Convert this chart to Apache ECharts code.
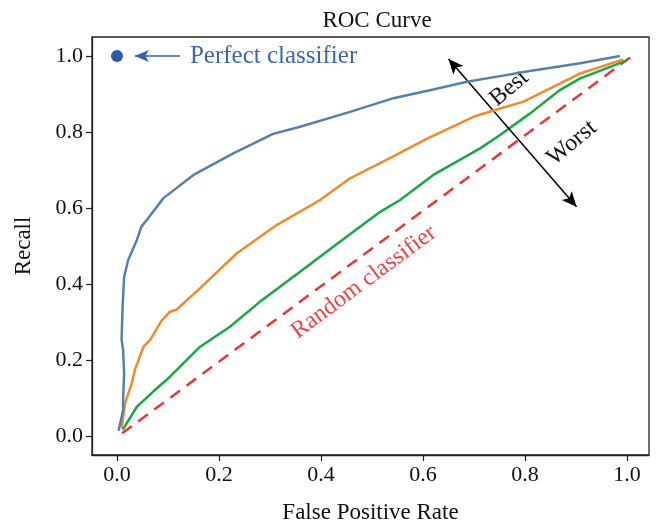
<!DOCTYPE html>
<html><head><meta charset="utf-8">
<script src="https://cdn.jsdelivr.net/npm/echarts@6/dist/echarts.min.js"></script>
<style>html,body{margin:0;padding:0;background:#fff}#c{width:658px;height:524px}</style>
</head><body><div id="c"></div>
<script>
const FONT = '"Liberation Serif", "DejaVu Serif", serif';
const xTicks = [0, 0.2, 0.4, 0.6, 0.8, 1.0];
const yTicks = [0, 0.2, 0.4, 0.6, 0.8, 1.0];

const blueFpr = [0.003,0.012,0.012,0.014,0.012,0.009,0.011,0.014,0.022,0.039,0.048,0.061,0.091,0.150,0.228,0.306,0.359,0.457,0.542,0.620,0.686,0.751,0.803,0.908,0.986];
const blueTpr = [0.014,0.068,0.095,0.166,0.226,0.253,0.340,0.419,0.463,0.516,0.551,0.573,0.626,0.687,0.744,0.795,0.814,0.853,0.889,0.912,0.932,0.947,0.959,0.981,1.000];

const orangeFpr = [0.009,0.016,0.029,0.035,0.052,0.065,0.088,0.104,0.117,0.163,0.235,0.313,0.398,0.457,0.535,0.607,0.699,0.751,0.797,0.908,0.993];
const orangeTpr = [0.020,0.087,0.139,0.174,0.235,0.253,0.305,0.327,0.333,0.389,0.481,0.555,0.621,0.678,0.731,0.782,0.840,0.862,0.880,0.954,0.991];

const greenFpr = [0.011,0.039,0.071,0.104,0.163,0.222,0.280,0.359,0.437,0.516,0.555,0.620,0.712,0.751,0.810,0.869,0.908,0.999];
const greenTpr = [0.016,0.077,0.117,0.156,0.235,0.288,0.353,0.432,0.511,0.590,0.621,0.687,0.757,0.792,0.849,0.911,0.941,0.988];

const randomFpr = [0.01, 1.01];
const randomTpr = [0.007, 1.0];

const perfectPoint = [0.0, 1.0];
const perfectArrow = [[0.124, 1.0], [0.035, 1.0]];
const perfectLabelAt = [0.143, 1.0];
const bestWorstArrow = [[0.650, 0.992], [0.901, 0.603]];
const bestLabelAt = [0.769, 0.915];
const worstLabelAt = [0.892, 0.771];
const randomLabelAt = [0.484, 0.405];

const zip = (a, b) => a.map((v, i) => [v, b[i]]);
const chart = echarts.init(document.getElementById('c'), null, {renderer: 'canvas'});

const axisText = {fontFamily: FONT, fontSize: 22, color: '#111'};

chart.setOption({
  animation: false,
  title: {text: 'ROC Curve', left: 372, top: 4, textAlign: 'center',
    textStyle: {fontFamily: FONT, fontSize: 23, fontWeight: 'normal', color: '#111'}},
  grid: {left: 92, right: 9, top: 37, bottom: 69, containLabel: false, outerBoundsMode: 'none',
    show: true, borderColor: '#222', borderWidth: 1.3, backgroundColor: 'transparent'},
  xAxis: {
    type: 'value', min: -0.049, max: 1.043,
    splitLine: {show: false},
    axisLine: {show: true, onZero: false, lineStyle: {color: '#222', width: 1.3}},
    axisTick: {show: true, customValues: xTicks, length: 6, inside: false, lineStyle: {color: '#222', width: 1.2}},
    axisLabel: Object.assign({customValues: xTicks, formatter: v => v.toFixed(1), margin: 9}, axisText),
    name: 'False Positive Rate', nameLocation: 'middle', nameGap: 46,
    nameTextStyle: {fontFamily: FONT, fontSize: 23, color: '#111'}
  },
  yAxis: {
    type: 'value', min: -0.05, max: 1.05,
    splitLine: {show: false},
    axisLine: {show: true, onZero: false, lineStyle: {color: '#222', width: 1.3}},
    axisTick: {show: true, customValues: yTicks, length: 6, inside: false, lineStyle: {color: '#222', width: 1.2}},
    axisLabel: Object.assign({customValues: yTicks, formatter: v => v.toFixed(1), margin: 9}, axisText),
    name: 'Recall', nameLocation: 'middle', nameGap: 57,
    nameTextStyle: {fontFamily: FONT, fontSize: 23, color: '#111'}
  },
  series: [
    {type: 'line', data: zip(randomFpr, randomTpr), showSymbol: false, symbol: 'none',
      lineStyle: {color: '#ee3535', width: 2.5, type: [12, 8]}, z: 3},
    {type: 'line', data: zip(greenFpr, greenTpr), showSymbol: false, symbol: 'none',
      lineStyle: {color: '#18a846', width: 2.5}, z: 4},
    {type: 'line', data: zip(orangeFpr, orangeTpr), showSymbol: false, symbol: 'none',
      lineStyle: {color: '#f48a2c', width: 2.5}, z: 5},
    {type: 'line', data: zip(blueFpr, blueTpr), showSymbol: false, symbol: 'none',
      lineStyle: {color: '#5580ad', width: 2.5}, z: 6},
    {type: 'scatter', data: [perfectPoint], symbolSize: 12, itemStyle: {color: '#2b5ba8', opacity: 1}, z: 7,
      markLine: {
        silent: true, animation: false, label: {show: false},
        data: [
          [{coord: perfectArrow[0], symbol: 'none', lineStyle: {color: '#3360aa', width: 1.5, type: 'solid'}},
           {coord: perfectArrow[1], symbol: 'arrow', symbolSize: [9, 14]}],
          [{coord: bestWorstArrow[0], symbol: 'arrow', symbolSize: [10, 15], lineStyle: {color: '#000', width: 1.5, type: 'solid'}},
           {coord: bestWorstArrow[1], symbol: 'arrow', symbolSize: [10, 15]}]
        ]
      }}
  ]
});

function place() {
  const p = v => chart.convertToPixel({gridIndex: 0}, v);
  const a = p([randomFpr[0], randomTpr[0]]), b = p([randomFpr[1], randomTpr[1]]);
  const randAngle = Math.atan2(a[1] - b[1], b[0] - a[0]);
  const textAngle = 40 * Math.PI / 180;
  const pl = p(perfectLabelAt), bl = p(bestLabelAt), wl = p(worstLabelAt), rl = p(randomLabelAt);
  chart.setOption({
    graphic: [
      {type: 'text', x: pl[0], y: pl[1], style: {text: 'Perfect classifier', fontFamily: FONT, fontSize: 25, fill: '#3d67ad', align: 'left', verticalAlign: 'middle'}},
      {type: 'text', x: bl[0], y: bl[1], rotation: textAngle, style: {text: 'Best', fontFamily: FONT, fontSize: 24, fill: '#111', align: 'center', verticalAlign: 'middle'}},
      {type: 'text', x: wl[0], y: wl[1], rotation: textAngle, style: {text: 'Worst', fontFamily: FONT, fontSize: 24, fill: '#111', align: 'center', verticalAlign: 'middle'}},
      {type: 'text', x: rl[0], y: rl[1], rotation: randAngle, style: {text: 'Random classifier', fontFamily: FONT, fontSize: 24, fill: '#ee4444', align: 'center', verticalAlign: 'middle'}}
    ]
  });
}
place();
</script>
</body></html>
